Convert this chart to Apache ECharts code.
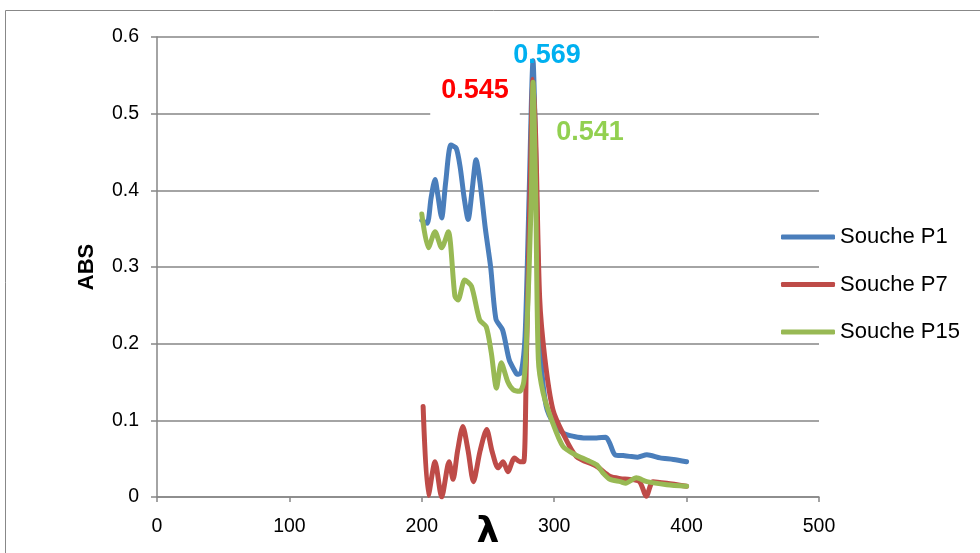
<!DOCTYPE html>
<html>
<head>
<meta charset="utf-8">
<script src="https://cdn.jsdelivr.net/npm/echarts@6/dist/echarts.min.js"></script>
<style>html,body{margin:0;padding:0;background:#fff}#c{width:980px;height:553px}</style>
</head>
<body>
<div id="c"></div>
<script>
const xTicks = [0, 100, 200, 300, 400, 500];
const yTicks = [0, 0.1, 0.2, 0.3, 0.4, 0.5, 0.6];
const seriesNames = ['Souche P1', 'Souche P7', 'Souche P15'];

const lambdaP1 = [200, 204, 207, 210, 212, 215, 218, 222, 226, 229, 232, 235, 238, 241, 244, 248, 252, 256, 261, 266, 270, 272, 275, 278, 281, 284, 286, 288, 290, 294, 300, 307, 315, 324, 332, 339, 342, 346, 352, 357, 363, 370, 380, 390, 400];
const absP1 = [0.361, 0.357, 0.39, 0.414, 0.395, 0.364, 0.41, 0.459, 0.455, 0.43, 0.39, 0.362, 0.40, 0.44, 0.41, 0.35, 0.30, 0.232, 0.218, 0.179, 0.165, 0.16, 0.162, 0.21, 0.39, 0.569, 0.45, 0.28, 0.18, 0.118, 0.095, 0.083, 0.079, 0.077, 0.077, 0.078, 0.07, 0.055, 0.054, 0.053, 0.052, 0.055, 0.051, 0.049, 0.046];

const lambdaP7 = [201, 205, 210, 215, 220.6, 223.6, 227, 231, 235, 239, 244, 249, 253, 257.6, 261.4, 265, 270, 274, 277, 279, 282, 284, 286, 289, 293, 299, 306.6, 316.7, 332, 342, 350, 357, 364.5, 369.6, 374.6, 385, 400];
const absP7 = [0.118, 0.002, 0.046, 0.0, 0.046, 0.023, 0.06, 0.092, 0.06, 0.02, 0.06, 0.088, 0.06, 0.038, 0.046, 0.033, 0.051, 0.046, 0.046, 0.18, 0.42, 0.545, 0.47, 0.26, 0.18, 0.114, 0.083, 0.053, 0.040, 0.027, 0.024, 0.023, 0.02, 0.001, 0.02, 0.018, 0.014];

const lambdaP15 = [200, 205, 210, 215, 220, 225, 227.4, 232.4, 237.5, 243.7, 248.7, 252.5, 256.4, 260, 265, 269, 274, 277, 279, 282.7, 284, 286, 288, 291.6, 299, 306.6, 316, 325, 332, 337, 342, 350, 354, 362, 370, 385, 400];
const absP15 = [0.369, 0.325, 0.346, 0.325, 0.346, 0.262, 0.257, 0.283, 0.275, 0.231, 0.222, 0.188, 0.142, 0.175, 0.150, 0.140, 0.138, 0.15, 0.2, 0.39, 0.541, 0.40, 0.18, 0.136, 0.096, 0.066, 0.055, 0.048, 0.042, 0.031, 0.023, 0.020, 0.018, 0.025, 0.020, 0.016, 0.014];

const peakLambda = [284, 284, 284];
const peakAbs = [0.569, 0.545, 0.541];
const peakLabels = ['0.569', '0.545', '0.541'];

const colors = ['#4A7EBB', '#BE4B48', '#98B954'];
const labelColors = ['#00B0F0', '#FF0000', '#92D050'];
const labelOffsets = [[14, -5], [-58, 11], [57, 50]];
const labelPadding = [[0, 0, 0, 0], [10, 11, 14, 11], [0, 0, 0, 0]];

function zip(a, b) { return a.map((v, i) => [v, b[i]]); }
const xs = [lambdaP1, lambdaP7, lambdaP15];
const ys = [absP1, absP7, absP15];

const FONT = 'Liberation Sans, Arial, sans-serif';

const chart = echarts.init(document.getElementById('c'));
chart.setOption({
  animation: false,
  backgroundColor: '#fff',
  graphic: [{
    type: 'rect', shape: { x: 5.5, y: 10.5, width: 1000, height: 600 },
    style: { fill: 'none', stroke: '#888', lineWidth: 1 }, z: -1
  }],
  grid: { left: 157, right: 161, top: 37, bottom: 56, containLabel: false, outerBoundsMode: 'none' },
  legend: {
    orient: 'vertical', left: 781, top: 226, padding: 0,
    itemWidth: 54, itemHeight: 5, itemGap: 25.5,
    icon: 'roundRect',
    data: seriesNames,
    textStyle: { fontFamily: FONT, fontSize: 22, color: '#000' }
  },
  xAxis: {
    type: 'value', min: 0, max: 500, interval: 100,
    name: 'λ', nameLocation: 'middle', nameGap: 18, nameMoveOverlap: false,
    nameTextStyle: { fontFamily: 'DejaVu Sans, sans-serif', fontSize: 36, fontWeight: 'bold', color: '#000' },
    axisLine: { show: true, lineStyle: { color: '#868686', width: 1.5 } },
    axisTick: { show: true, length: 5, lineStyle: { color: '#868686', width: 1.5 } },
    axisLabel: { fontFamily: FONT, fontSize: 19.5, color: '#000', margin: 20 },
    splitLine: { show: false }
  },
  yAxis: {
    type: 'value', min: 0, max: 0.6, interval: 0.1,
    name: 'ABS', nameLocation: 'middle', nameGap: 59, nameRotate: 90, nameMoveOverlap: false,
    nameTextStyle: { fontFamily: 'Liberation Sans Narrow, Liberation Sans, Arial, sans-serif', fontSize: 22, fontWeight: 'bold', color: '#000' },
    axisLine: { show: true, lineStyle: { color: '#868686', width: 1.5 } },
    axisTick: { show: true, length: 6, lineStyle: { color: '#868686', width: 1.5 } },
    axisLabel: { fontFamily: FONT, fontSize: 19.5, color: '#000', margin: 18,
      formatter: v => (Math.round(v * 10) / 10).toString() },
    splitLine: { show: true, lineStyle: { color: '#868686', width: 1.5 } }
  },
  series: seriesNames.map((name, i) => ({
    name, type: 'line', smooth: 0.25, showSymbol: false, symbol: 'none',
    data: zip(xs[i], ys[i]),
    lineStyle: { color: colors[i], width: 5, cap: 'round', join: 'round' },
    itemStyle: { color: colors[i] },
    z: i === 0 ? 3 : (i === 1 ? 4 : 5),
    markPoint: {
      symbol: 'circle', symbolSize: 0, silent: true,
      z: 10,
      data: [{ coord: [peakLambda[i], peakAbs[i]], value: peakLabels[i] }],
      label: {
        show: true, formatter: peakLabels[i], position: 'inside',
        offset: labelOffsets[i],
        fontFamily: FONT, fontSize: 27, fontWeight: 'bold', color: labelColors[i],
        backgroundColor: i === 1 ? '#fff' : 'transparent',
        padding: labelPadding[i]
      }
    }
  }))
});
</script>
</body>
</html>
